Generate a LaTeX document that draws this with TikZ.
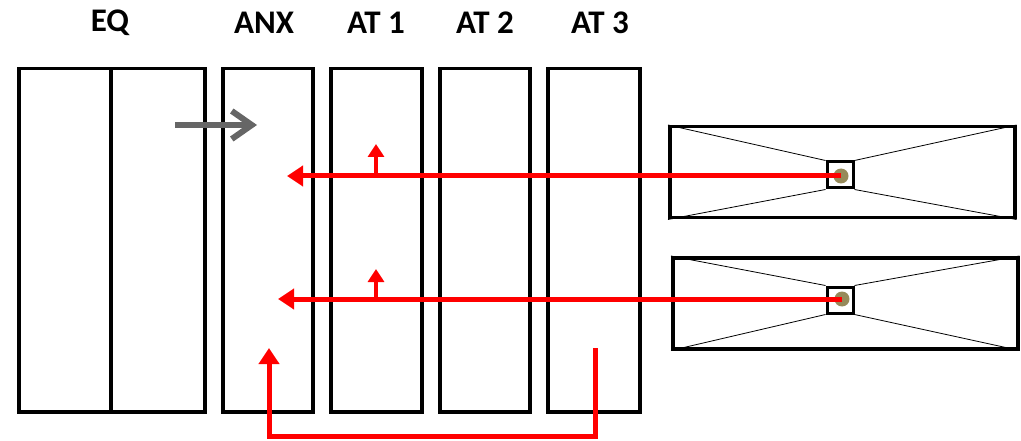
\documentclass[tikz,border=0pt]{standalone}
\usepackage{fontspec}
\setmainfont{Carlito}
\usetikzlibrary{arrows.meta}
\definecolor{dotcol}{HTML}{968A5A}
\begin{document}
\begin{tikzpicture}[x=1pt,y=-1pt,
  col/.style={draw=black,line width=3.5pt,minimum width=#1,minimum height=343pt,inner sep=0pt,anchor=north west},
  lab/.style={font=\bfseries\fontsize{33}{38}\selectfont,anchor=center},
  unit/.style={draw=black,line width=3.5pt,minimum width=345pt,minimum height=91pt,inner sep=0pt,anchor=north west},
  sq/.style={draw=black,line width=3pt,fill=white,minimum size=26pt,inner sep=0pt},
  dot/.style={circle,fill=dotcol,minimum size=15pt,inner sep=0pt},
  thin/.style={draw=black,line width=0.8pt},
  redarr/.style={draw=red,line width=5pt,-{Triangle[length=16pt,width=20pt]}},
  redsmall/.style={draw=red,line width=4pt,-{Triangle[length=13pt,width=16pt]}},
  grayarr/.style={draw=black!60,line width=6pt,-{Straight Barb[length=20pt,width=28pt,line width=6pt]}}
]
\useasboundingbox (0,0) rectangle (1021,441);
% columns
\node[col=92pt] (eqa) at (17,67) {};
\node[col=94pt] (eqb) at (109,67) {};
\node[col=90pt] (anx) at (221,67) {};
\node[col=91pt] (at1) at (329,67) {};
\node[col=90pt] (at2) at (438,67) {};
\node[col=92pt] (at3) at (546,67) {};
% labels
\node[lab] (leq) at (110,23) {EQ};
\node[lab] (lanx) at (264,23) {ANX};
\node[lab] (lat1) at (376,23) {AT 1};
\node[lab] (lat2) at (485,23) {AT 2};
\node[lab] (lat3) at (600,23) {AT 3};
% units
\node[unit] (u1) at (668,125) {};
\node[unit] (u2) at (671,256) {};
\node[sq] (s1) at (840,175) {};
\node[sq] (s2) at (840,300) {};
\draw[thin] (u1.north west) -- (s1.north west);
\draw[thin] (u1.south west) -- (s1.south west);
\draw[thin] (u1.north east) -- (s1.north east);
\draw[thin] (u1.south east) -- (s1.south east);
\draw[thin] (u2.north west) -- (s2.north west);
\draw[thin] (u2.south west) -- (s2.south west);
\draw[thin] (u2.north east) -- (s2.north east);
\draw[thin] (u2.south east) -- (s2.south east);
\node[sq] at (s1) {};
\node[sq] at (s2) {};
\node[dot] (d1) at (841,176) {};
\node[dot] (d2) at (842,299) {};
% gray arrow
\coordinate (g0) at (175,125);
\coordinate (g1) at (257,125);
\draw[grayarr] (g0) -- (g1);
% red arrows
\coordinate (r1e) at (287,176);
\coordinate (r2e) at (278,299);
\draw[redarr] (d1.center) -- (r1e);
\draw[redarr] (d2.center) -- (r2e);
\coordinate (t1a) at (376,176);
\coordinate (t1b) at (376,144);
\coordinate (t2a) at (376,299);
\coordinate (t2b) at (376,269);
\draw[redsmall] (t1a) -- (t1b);
\draw[redsmall] (t2a) -- (t2b);
\coordinate (b0) at (595,348);
\coordinate (b1) at (595,436);
\coordinate (b2) at (269,436);
\coordinate (b3) at (269,348);
\draw[redarr,line join=miter] (b0) -- (b1) -- (b2) -- (b3);
\end{tikzpicture}
\end{document}
